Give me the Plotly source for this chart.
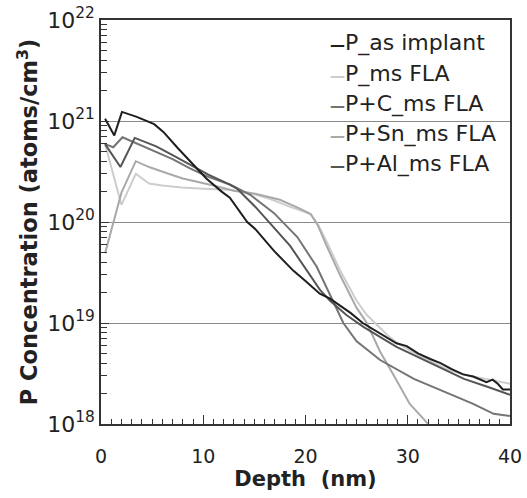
import plotly.graph_objects as go

# ---------------- data ----------------
series_names = ["P_as implant", "P_ms FLA", "P+C_ms FLA", "P+Sn_ms FLA", "P+Al_ms FLA"]
series_colors = ["#1e1e1e", "#cdcdcd", "#747474", "#a9a9a9", "#555555"]

as_implant_depth = [0.4, 1.3, 2.05, 3.5, 5.2, 6.1, 7.5, 8.9, 10.3, 11.8, 12.6, 14.3, 15.1, 16.9, 18.8,
                    20.0, 21.4, 22.4, 24.4, 25.6, 27.3, 28.9, 29.9, 31.0, 32.2, 33.2, 34.3, 35.4,
                    36.4, 37.2, 37.7, 38.3, 38.8, 39.3, 40.0]
as_implant_conc = [1.05e21, 7.2e20, 1.23e21, 1.10e21, 9.3e20, 7.8e20, 5.4e20, 3.8e20, 2.7e20, 2.0e20,
                   1.74e20, 1.0e20, 8.5e19, 5.2e19, 3.3e19, 2.6e19, 1.95e19, 1.74e19, 1.26e19, 1.0e19,
                   7.9e18, 6.3e18, 5.9e18, 5.0e18, 4.4e18, 4.0e18, 3.5e18, 3.1e18, 2.95e18, 2.7e18,
                   2.6e18, 2.75e18, 2.5e18, 2.2e18, 2.2e18]

ms_fla_depth = [0.4, 2.0, 3.4, 4.7, 6.0, 7.9, 10.0, 12.5, 14.5, 16.5, 18.5, 20.5, 21.2, 22.0, 23.4,
                25.0, 26.0, 26.8, 28.0, 29.0, 31.0, 33.8, 36.0, 38.0, 40.0]
ms_fla_conc = [5.9e20, 1.48e20, 3.0e20, 2.4e20, 2.3e20, 2.2e20, 2.14e20, 2.09e20, 1.95e20, 1.7e20,
               1.41e20, 1.2e20, 9.5e19, 6.6e19, 3.3e19, 1.66e19, 1.2e19, 1.0e19, 7.6e18, 6.3e18,
               4.8e18, 3.5e18, 3.0e18, 2.75e18, 2.5e18]

c_fla_depth = [0.4, 1.2, 2.1, 3.5, 5.4, 7.0, 8.7, 10.5, 12.6, 14.6, 16.9, 19.2, 21.1, 22.4, 23.7,
               25.0, 27.3, 30.6, 33.5, 36.4, 38.4, 40.0]
c_fla_conc = [5.9e20, 5.5e20, 6.9e20, 6.0e20, 5.0e20, 4.2e20, 3.4e20, 2.8e20, 2.35e20, 1.86e20,
              1.23e20, 7.1e19, 3.6e19, 1.86e19, 1.0e19, 6.6e18, 4.3e18, 2.8e18, 2.1e18, 1.58e18,
              1.26e18, 1.2e18]

sn_fla_depth = [0.4, 2.0, 3.4, 4.7, 6.6, 8.0, 11.0, 13.0, 15.1, 17.5, 19.5, 20.5, 21.2, 22.0, 23.4,
                25.0, 26.0, 27.3, 28.5, 30.2, 32.0, 33.0]
sn_fla_conc = [4.9e19, 1.95e20, 4.0e20, 3.5e20, 3.0e20, 2.7e20, 2.3e20, 2.04e20, 1.9e20, 1.66e20,
               1.35e20, 1.2e20, 9.3e19, 6.0e19, 2.95e19, 1.41e19, 1.0e19, 5.2e18, 3.2e18, 1.58e18,
               1.0e18, 7.1e17]

al_fla_depth = [0.4, 1.9, 3.3, 5.4, 7.0, 8.7, 10.5, 12.6, 13.3, 15.1, 16.0, 18.5, 21.4, 22.4, 24.0,
                25.7, 28.9, 32.2, 35.5, 38.0, 40.0]
al_fla_conc = [5.9e20, 3.5e20, 6.8e20, 5.6e20, 4.6e20, 3.7e20, 2.95e20, 2.35e20, 2.14e20, 1.41e20,
               1.12e20, 5.8e19, 2.14e19, 1.66e19, 1.2e19, 9.1e18, 5.8e18, 4.0e18, 2.8e18, 2.3e18,
               1.95e18]

x_tick_vals = [0, 10, 20, 30, 40]
y_tick_vals = [1e18, 1e19, 1e20, 1e21, 1e22]
y_tick_text = ["10<sup>18</sup>", "10<sup>19</sup>", "10<sup>20</sup>", "10<sup>21</sup>", "10<sup>22</sup>"]

x_title = "<b>Depth\u00a0\u00a0(nm)</b>"
y_title = "<b>P Concentration (atoms/cm<sup>3</sup>)</b>"

# ---------------- figure ----------------
FONT = "DejaVu Sans"
depths = [as_implant_depth, ms_fla_depth, c_fla_depth, sn_fla_depth, al_fla_depth]
concs = [as_implant_conc, ms_fla_conc, c_fla_conc, sn_fla_conc, al_fla_conc]

fig = go.Figure()
draw_order = [1, 3, 2, 4, 0]
for i in draw_order:
    fig.add_trace(go.Scatter(x=depths[i], y=concs[i], mode="lines", name=series_names[i],
                             line=dict(color=series_colors[i], width=2), showlegend=False))

minor_y = [float(k) * 10.0 ** e for e in range(18, 22) for k in range(2, 10)]

fig.update_layout(
    width=527, height=498,
    margin=dict(l=101, r=17, t=20, b=74),
    paper_bgcolor="white", plot_bgcolor="white",
    font=dict(family=FONT, color="#222222"),
    xaxis=dict(range=[0, 40], tickvals=x_tick_vals, ticks="inside", ticklen=9, tickwidth=1,
               tickcolor="#333333", showline=True, linecolor="#333333", linewidth=1.5, mirror=True,
               showgrid=False, zeroline=False, automargin=False, ticklabelstandoff=14,
               ticklabeloverflow="allow",
               tickfont=dict(size=19, family=FONT, color="#222222"),
               minor=dict(dtick=1, ticks="inside", ticklen=5, tickcolor="#333333", showgrid=False),
               title=dict(text=x_title, font=dict(size=21, family=FONT, color="#222222"), standoff=6)),
    yaxis=dict(type="log", range=[18, 22], tickvals=y_tick_vals, ticktext=y_tick_text,
               ticks="inside", ticklen=8, tickwidth=1, tickcolor="#333333",
               showline=True, linecolor="#333333", linewidth=1.5, mirror=True,
               showgrid=True, gridcolor="#8a8a8a", gridwidth=1, zeroline=False, automargin=False,
               ticklabeloverflow="allow",
               tickfont=dict(size=22, family=FONT, color="#222222"),
               minor=dict(tickvals=minor_y, ticks="inside", ticklen=6, tickcolor="#333333", showgrid=False),
               title=dict(text=y_title, font=dict(size=22.5, family=FONT, color="#222222"), standoff=3)),
)

# legend drawn as text entries in the upper right of the plot area
leg_x = 0.555
leg_y0 = 0.942
leg_step = 0.0748
for i, (name, col) in enumerate(zip(series_names, series_colors)):
    fig.add_annotation(xref="paper", yref="paper", x=leg_x, y=leg_y0 - i * leg_step,
                       xanchor="left", yanchor="middle", showarrow=False,
                       text=f"<span style='color:{col};font-size:15px'><b>\u2014</b></span>{name}",
                       font=dict(size=22, family=FONT, color="#222222"))

fig.write_html("out.html", config={"displayModeBar": False},
               post_script="document.body.style.margin='0px';")
